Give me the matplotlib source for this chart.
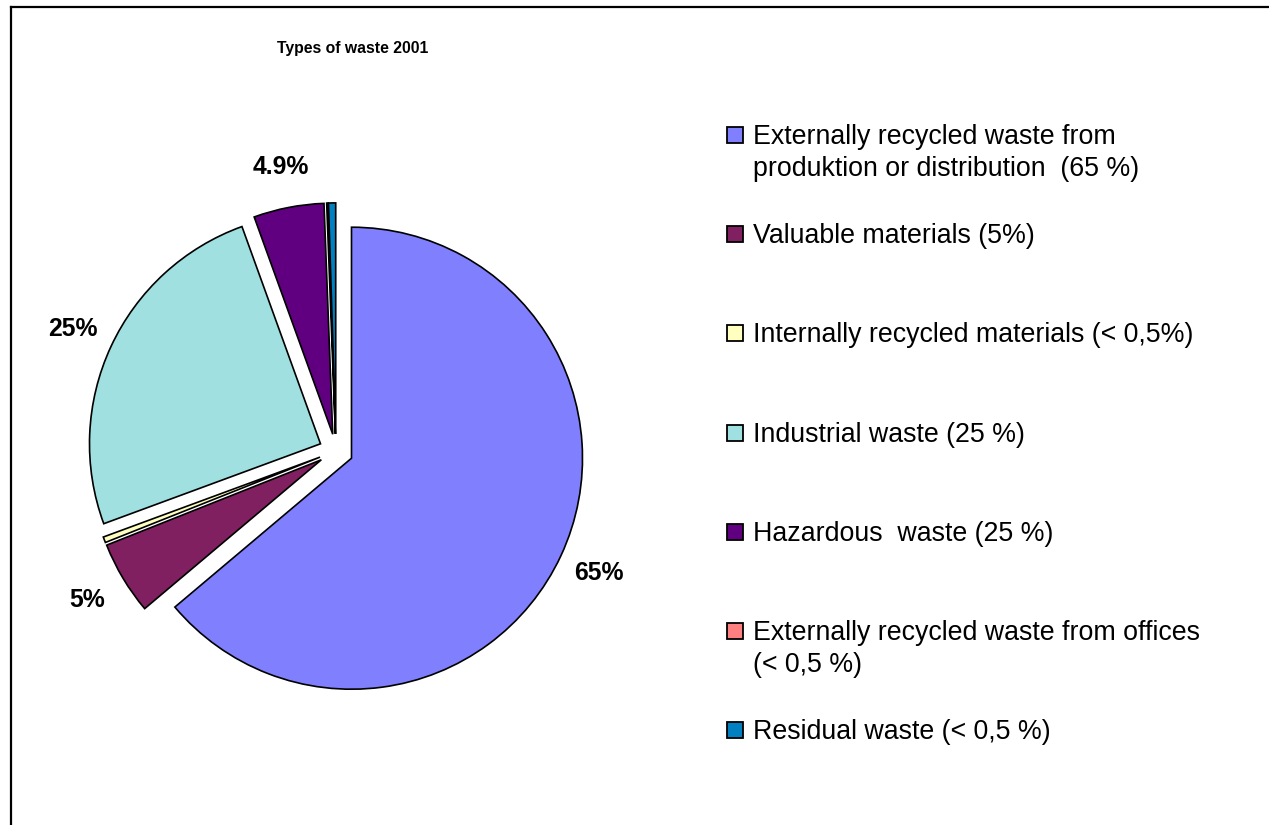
import matplotlib
matplotlib.use("Agg")
import matplotlib.pyplot as plt
from matplotlib.patches import Rectangle
from matplotlib.lines import Line2D

W, H = 1269, 825
DPI = 100

title = "Types of waste 2001"
categories = [
    "Externally recycled waste from\nproduktion or distribution  (65 %)",
    "Valuable materials (5%)",
    "Internally recycled materials (< 0,5%)",
    "Industrial waste (25 %)",
    "Hazardous  waste (25 %)",
    "Externally recycled waste from offices\n(< 0,5 %)",
    "Residual waste (< 0,5 %)",
]
values = [63.6, 5.1, 0.4, 25.0, 4.9, 0.1, 0.5]
pct_labels = ["65%", "5%", "", "25%", "4.9%", "", ""]
colors = ["#8080FF", "#802060", "#FFFFC0", "#A0E0E0", "#600080", "#FF8080", "#0080C0"]

plt.rcParams['font.family'] = ['Liberation Sans', 'DejaVu Sans']

fig = plt.figure(figsize=(W / DPI, H / DPI), dpi=DPI)
fig.patch.set_facecolor("white")

# pie axes
cx, cy, R = 336.0, 451.0, 231.0
lim = 1.3
S = 2 * lim * R
ax = fig.add_axes([(cx - S / 2) / W, (H - cy - S / 2) / H, S / W, S / H])
wedges, texts, autotexts = ax.pie(
    values,
    colors=colors,
    startangle=90,
    counterclock=False,
    explode=[0.074] * len(values),
    autopct=lambda p: "",
    pctdistance=1.18,
    wedgeprops=dict(edgecolor="black", linewidth=1.2),
)
for t, s in zip(autotexts, pct_labels):
    t.set_text(s)
    t.set_fontsize(17.8)
    t.set_fontweight("bold")
    t.set_ha("center")
    t.set_va("center")
ax.set_xlim(-lim, lim)
ax.set_ylim(-lim, lim)
ax.set_aspect("equal")
ax.axis("off")

# title
fig.text(353 / W, 1 - 49 / H, title, ha="center", va="center",
         fontsize=11.3, fontweight="bold")

# legend
y0, dy = 135.0, 99.2
sq = 16
for i, (lab, col) in enumerate(zip(categories, colors)):
    yc = y0 + i * dy
    fig.add_artist(Rectangle(((727) / W, 1 - (yc + sq / 2) / H), sq / W, sq / H,
                             transform=fig.transFigure, facecolor=col,
                             edgecolor="black", linewidth=1.3))
    for j, line in enumerate(lab.split("\n")):
        fig.text(753 / W, 1 - (yc + 9 + j * 32) / H, line, ha="left",
                 va="baseline", fontsize=19.3)

# outer border
fig.add_artist(Line2D([11.5 / W, 11.5 / W], [1 - 6.5 / H, 0], color="black",
                      linewidth=1.6, transform=fig.transFigure))
fig.add_artist(Line2D([11.5 / W, 1], [1 - 6.5 / H, 1 - 6.5 / H], color="black",
                      linewidth=1.6, transform=fig.transFigure))

fig.savefig("out.png", dpi=DPI)
